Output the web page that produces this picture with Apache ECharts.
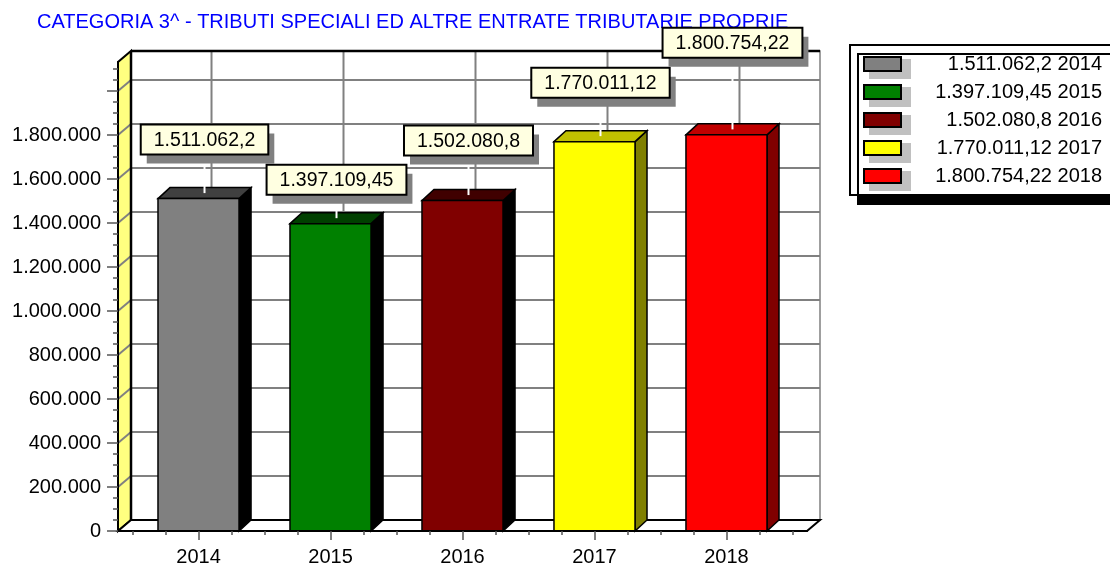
<!DOCTYPE html>
<html>
<head>
<meta charset="utf-8">
<script src="https://cdn.jsdelivr.net/npm/echarts@6/dist/echarts.min.js"></script>
<style>
html, body { margin: 0; padding: 0; background: #fff; }
#chart { width: 1110px; height: 567px; }
</style>
</head>
<body>
<div id="chart"></div>
<script>
// dati
const title = 'CATEGORIA 3^ - TRIBUTI SPECIALI ED ALTRE ENTRATE TRIBUTARIE PROPRIE';
const years = ['2014', '2015', '2016', '2017', '2018'];
const values = [1511062.2, 1397109.45, 1502080.8, 1770011.12, 1800754.22];
const yMajorTicks = [0, 200000, 400000, 600000, 800000, 1000000, 1200000, 1400000, 1600000, 1800000, 2000000];
const yLabelTicks = [0, 200000, 400000, 600000, 800000, 1000000, 1200000, 1400000, 1600000, 1800000];
const xCenters = [0, 1, 2, 3, 4];

// stile
const frontColors = ['#808080', '#008000', '#800000', '#ffff00', '#ff0000'];
const topColors = ['#404040', '#004000', '#400000', '#c0c000', '#c00000'];
const sideColors = ['#000000', '#000000', '#000000', '#808000', '#800000'];
const labelRise = [44, 29, 45, 44, 77];

const X_MIN = -0.61, X_MAX = 4.61, Y_MAX = 2132000;
const DX = 13, DY = 11;     // profondità pareti
const BDX = 12, BDY = 11;   // profondità barre
const BAR_FRACTION = 0.614;
const FONT = "'Liberation Sans', Arial, sans-serif";
const LABEL_FONT = '19.5px ' + FONT;

const yMinorTicks = [];
for (let v = 0; v <= 2100000; v += 50000) yMinorTicks.push(v);
const xMinorTicks = [];
for (let v = -0.5; v <= 4.5001; v += 0.25) xMinorTicks.push(v);

function fmtNum(v) {
  const parts = String(v).split('.');
  const intPart = parts[0].replace(/\B(?=(\d{3})+(?!\d))/g, '.');
  return parts[1] ? intPart + ',' + parts[1] : intPart;
}

const legendNames = values.map((v, i) => fmtNum(v) + ' ' + years[i]);

const measureCtx = document.createElement('canvas').getContext('2d');
function textWidth(str, font) {
  measureCtx.font = font;
  return measureCtx.measureText(str).width;
}

function line(x1, y1, x2, y2, color, width) {
  return { type: 'line', shape: { x1, y1, x2, y2 }, style: { stroke: color, lineWidth: width } };
}

function renderFrame(params, api) {
  const fl = api.coord([X_MIN, 0]);
  const fr = api.coord([X_MAX, 0]);
  const tl = api.coord([X_MIN, Y_MAX]);
  const children = [];
  // parete di fondo
  children.push({
    type: 'rect',
    shape: { x: fl[0] + DX, y: tl[1] - DY, width: fr[0] - fl[0], height: fl[1] - tl[1] },
    style: { fill: '#fff', stroke: '#808080', lineWidth: 1.5 }
  });
  // parete sinistra gialla
  children.push({
    type: 'polygon',
    shape: { points: [[fl[0], fl[1]], [fl[0] + DX, fl[1] - DY], [tl[0] + DX, tl[1] - DY], [tl[0], tl[1]]] },
    style: { fill: '#ffff80', stroke: '#000', lineWidth: 2 }
  });
  // pavimento
  children.push({
    type: 'polygon',
    shape: { points: [[fl[0], fl[1]], [fl[0] + DX, fl[1] - DY], [fr[0] + DX, fr[1] - DY], [fr[0], fr[1]]] },
    style: { fill: '#fff', stroke: '#000', lineWidth: 2 }
  });
  // griglia orizzontale
  yMajorTicks.forEach(v => {
    if (v === 0) return;
    const p = api.coord([X_MIN, v]);
    children.push(line(p[0], p[1], p[0] + DX, p[1] - DY, '#808080', 2));
    children.push(line(p[0] + DX, p[1] - DY, fr[0] + DX, p[1] - DY, '#808080', 2));
  });
  // griglia verticale
  xCenters.forEach(c => {
    const p = api.coord([c, 0]);
    children.push(line(p[0] + DX, tl[1] - DY, p[0] + DX, fl[1] - DY, '#808080', 2));
  });
  children.push(line(tl[0] + DX, tl[1] - DY, fr[0] + DX, tl[1] - DY, '#000', 2.5));
  children.push(line(fl[0] + DX, tl[1] - DY, fl[0] + DX, fl[1] - DY, '#000', 2.5));
  return { type: 'group', children };
}

function makeBarSeries(i) {
  return {
    type: 'custom',
    name: legendNames[i],
    z: 5,
    clip: false,
    itemStyle: { color: frontColors[i] },
    encode: { x: 0, y: 1 },
    data: [[xCenters[i], values[i]]],
    renderItem(params, api) {
      const base = api.coord([api.value(0), 0]);
      const top = api.coord([api.value(0), api.value(1)]);
      const w = api.size([1, 0])[0] * BAR_FRACTION;
      const x0 = base[0] - w / 2, x1 = base[0] + w / 2;
      const yb = base[1], yt = top[1];
      const edge = { stroke: '#000', lineWidth: 1.5 };
      const label = fmtNum(values[i]);
      const boxW = textWidth(label, LABEL_FONT) + 26;
      const boxH = 30;
      const cx = base[0] + 6;
      const boxBottom = yt - labelRise[i];
      const bx = cx - boxW / 2, by = boxBottom - boxH;
      return {
        type: 'group',
        children: [
          { type: 'polygon', shape: { points: [[x1, yt], [x1 + BDX, yt - BDY], [x1 + BDX, yb - BDY], [x1, yb]] },
            style: Object.assign({ fill: sideColors[i] }, edge) },
          { type: 'polygon', shape: { points: [[x0, yt], [x0 + BDX, yt - BDY], [x1 + BDX, yt - BDY], [x1, yt]] },
            style: Object.assign({ fill: topColors[i] }, edge) },
          { type: 'rect', shape: { x: x0, y: yt, width: w, height: yb - yt },
            style: Object.assign({ fill: frontColors[i] }, edge) },
          line(cx, boxBottom, cx, yt - BDY / 2, '#fff', 2),
          { type: 'rect', shape: { x: bx + 6, y: by + 9, width: boxW, height: boxH }, style: { fill: '#808080' } },
          { type: 'rect', shape: { x: bx, y: by, width: boxW, height: boxH },
            style: { fill: '#ffffe1', stroke: '#000', lineWidth: 2 } },
          { type: 'text', x: cx, y: by + boxH / 2 + 1,
            style: { text: label, font: LABEL_FONT, fill: '#000', align: 'center', verticalAlign: 'middle' } }
        ]
      };
    }
  };
}

const chart = echarts.init(document.getElementById('chart'), null, { renderer: 'canvas' });

const tickStyle = { color: '#555', width: 1.5 };
const legendText = (color) => ({
  fontFamily: FONT, fontSize: 20, color, lineHeight: 20,
  rich: { v: { width: 196, align: 'right', fontSize: 20, fontFamily: FONT, lineHeight: 20, color } }
});

chart.setOption({
  animation: false,
  title: {
    text: title,
    left: 37,
    top: 12,
    padding: 0,
    z: 1,
    textStyle: { color: '#0000ff', fontSize: 20, fontWeight: 'normal', fontFamily: FONT }
  },
  legend: [
    {
      // riquadro con ombre dei simboli
      orient: 'vertical', left: 850, top: 45,
      padding: [14, 20, 4, 19],
      itemWidth: 42, itemHeight: 20, itemGap: 8,
      selectedMode: false,
      backgroundColor: '#fff', borderColor: '#000', borderWidth: 2,
      shadowColor: '#000', shadowBlur: 0, shadowOffsetX: 8, shadowOffsetY: 9,
      icon: 'rect',
      itemStyle: { color: '#c0c0c0', borderWidth: 0 },
      textStyle: legendText('rgba(0,0,0,0)'),
      formatter: name => '{v|' + name + '}',
      data: legendNames,
      z: 3
    },
    {
      orient: 'vertical', left: 850, top: 45,
      padding: [9, 20, 9, 13],
      itemWidth: 37, itemHeight: 14, itemGap: 8,
      selectedMode: false,
      icon: 'rect',
      itemStyle: { borderColor: '#000', borderWidth: 2 },
      textStyle: legendText('#000'),
      formatter: name => '{v|' + name + '}',
      data: legendNames,
      z: 4
    }
  ],
  grid: { left: 118, top: 62, width: 689, height: 469 },
  xAxis: [
    {
      type: 'value', min: X_MIN, max: X_MAX, z: 6,
      axisLine: { show: true, onZero: false, lineStyle: { color: '#000', width: 2 } },
      splitLine: { show: false },
      axisTick: { show: true, length: 4, customValues: xMinorTicks, lineStyle: tickStyle },
      axisLabel: {
        customValues: xCenters, formatter: v => years[Math.round(v)],
        fontSize: 20, fontFamily: FONT, color: '#000', margin: 16
      }
    },
    {
      type: 'value', min: X_MIN, max: X_MAX, position: 'bottom', z: 6,
      axisLine: { show: false, onZero: false },
      splitLine: { show: false },
      axisTick: { show: true, length: 9, customValues: xCenters, lineStyle: tickStyle },
      axisLabel: { show: false }
    }
  ],
  yAxis: [
    {
      type: 'value', min: 0, max: Y_MAX, z: 6,
      axisLine: { show: true, onZero: false, lineStyle: { color: '#000', width: 2 } },
      splitLine: { show: false },
      axisTick: { show: true, length: 11, customValues: yMajorTicks, lineStyle: tickStyle },
      axisLabel: {
        customValues: yLabelTicks, formatter: v => fmtNum(v),
        fontSize: 20, fontFamily: FONT, color: '#000', margin: 17
      }
    },
    {
      type: 'value', min: 0, max: Y_MAX, position: 'left', z: 6,
      axisLine: { show: false, onZero: false },
      splitLine: { show: false },
      axisTick: { show: true, length: 5, customValues: yMinorTicks, lineStyle: tickStyle },
      axisLabel: { show: false }
    }
  ],
  series: [
    { type: 'custom', name: 'frame', z: 1, silent: true, clip: false, data: [[0, 0]], renderItem: renderFrame }
  ].concat(years.map((y, i) => makeBarSeries(i)))
});
</script>
</body>
</html>
